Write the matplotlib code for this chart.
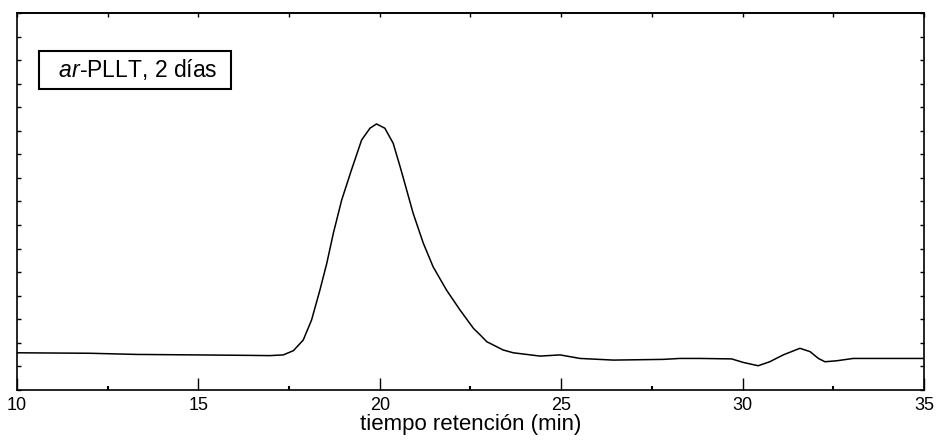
import matplotlib
matplotlib.use("Agg")
import matplotlib.pyplot as plt
from matplotlib.ticker import MultipleLocator, NullFormatter

plt.rcParams["font.family"] = ["Liberation Sans", "DejaVu Sans"]
plt.rcParams["mathtext.fontset"] = "custom"
plt.rcParams["mathtext.rm"] = "Liberation Sans"
plt.rcParams["mathtext.it"] = "Liberation Sans:italic"

# ── Chromatogram trace (retention time in min, detector signal a.u.) ──
t_min = [10.0, 11.0, 12.0, 13.3, 14.95, 16.4, 16.97, 17.34, 17.62, 17.89,
         18.12, 18.35, 18.54, 18.72, 18.95, 19.22, 19.50, 19.73, 19.91, 20.14,
         20.37, 20.56, 20.69, 20.92, 21.20, 21.47, 21.84, 22.21, 22.58, 22.76,
         22.95, 23.22, 23.40, 23.68, 24.42, 24.97, 25.52, 26.44, 27.81, 28.27,
         28.83, 29.70, 30.02, 30.43, 30.75, 31.12, 31.58, 31.86, 32.09, 32.27,
         32.59, 33.05, 34.0, 35.0]
signal = [1.58, 1.57, 1.56, 1.51, 1.49, 1.47, 1.46, 1.49, 1.67, 2.12,
          2.97, 4.24, 5.38, 6.65, 8.06, 9.34, 10.61, 11.11, 11.29, 11.11,
          10.47, 9.48, 8.77, 7.50, 6.23, 5.23, 4.24, 3.40, 2.62, 2.35,
          2.05, 1.84, 1.70, 1.58, 1.44, 1.49, 1.34, 1.27, 1.30, 1.34,
          1.34, 1.32, 1.17, 1.03, 1.20, 1.49, 1.77, 1.63, 1.34, 1.20,
          1.24, 1.34, 1.34, 1.34]

label = r"  $\it{ar}$-PLLT, 2 días  "

fig = plt.figure(figsize=(9.37, 4.41), dpi=100)
ax = fig.add_axes([0.0181, 0.1156, 0.968, 0.855])

ax.plot(t_min, signal, color="black", lw=1.1, solid_joinstyle="round")

ax.set_xlim(10, 35)
ax.set_ylim(0, 16)

# bottom axis: long major ticks, short minor ticks
ax.xaxis.set_major_locator(MultipleLocator(5))
ax.xaxis.set_minor_locator(MultipleLocator(2.5))
ax.tick_params(axis="x", which="major", direction="in", length=9, width=1,
               top=False, labelsize=13, pad=5)
ax.tick_params(axis="x", which="minor", direction="in", length=3, width=1.5,
               top=False)
# y axis: small unlabeled ticks on both sides
ax.yaxis.set_major_locator(MultipleLocator(1))
ax.yaxis.set_major_formatter(NullFormatter())
ax.tick_params(axis="y", which="major", direction="in", length=3, width=1,
               left=True, right=True)

# top axis: small ticks only
top = ax.secondary_xaxis("top")
top.xaxis.set_major_locator(MultipleLocator(2.5))
top.xaxis.set_major_formatter(NullFormatter())
top.tick_params(direction="in", length=3, width=1)
top.spines["top"].set_linewidth(1.2)

for sp in ax.spines.values():
    sp.set_linewidth(1.2)

ax.set_xlabel("tiempo retención (min)", fontsize=16, labelpad=0)

ax.text(0.130, 0.849, label, transform=ax.transAxes, fontsize=16.5,
        ha="center", va="center",
        bbox=dict(boxstyle="square,pad=0.28", facecolor="white",
                  edgecolor="black", linewidth=1.5))

fig.savefig("out.png", dpi=100)
